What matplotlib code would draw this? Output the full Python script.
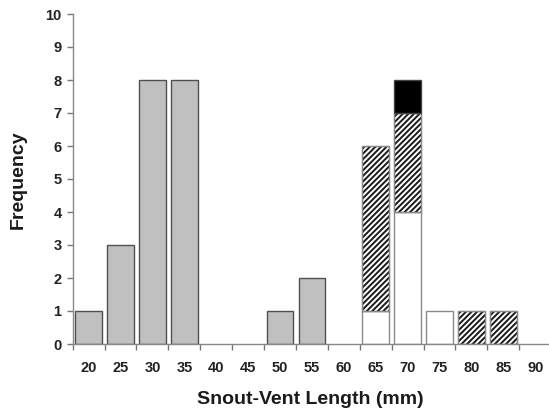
import matplotlib
matplotlib.use("Agg")
import matplotlib.pyplot as plt
import numpy as np

plt.rcParams['font.family'] = ['Liberation Sans', 'DejaVu Sans']
plt.rcParams['hatch.linewidth'] = 1.4

bins = [20, 25, 30, 35, 40, 45, 50, 55, 60, 65, 70, 75, 80, 85, 90]
gray_vals = [1, 3, 8, 8, 0, 0, 1, 2, 0, 0, 0, 0, 0, 0, 0]
white_vals = [0, 0, 0, 0, 0, 0, 0, 0, 0, 1, 4, 1, 0, 0, 0]
hatch_vals = [0, 0, 0, 0, 0, 0, 0, 0, 0, 5, 3, 0, 1, 1, 0]
black_vals = [0, 0, 0, 0, 0, 0, 0, 0, 0, 0, 1, 0, 0, 0, 0]

fig = plt.figure(figsize=(5.49, 4.12), dpi=100)
W, H = 549, 412
ax = fig.add_axes([72.7 / W, 1 - 344 / H, (549 - 72.7) / W, (344 - 14) / H])

x = np.array(bins, dtype=float)
bw = 4.2
g = np.array(gray_vals); w = np.array(white_vals)
h = np.array(hatch_vals); b = np.array(black_vals)

m = g > 0
ax.bar(x[m], g[m], width=bw, color='#c0c0c0', edgecolor='#505050', linewidth=1.0)
m = w > 0
ax.bar(x[m], w[m], width=bw, color='white', edgecolor='#8a8a8a', linewidth=1.0)
m = h > 0
ax.bar(x[m], h[m], width=bw, bottom=w[m], color='white', edgecolor='#1a1a1a',
       hatch='//////', linewidth=0.8)
ax.bar(x[m], h[m], width=bw, bottom=w[m], fill=False, edgecolor='#8a8a8a', linewidth=1.0)
m = b > 0
ax.bar(x[m], b[m], width=bw, bottom=(w + h)[m], color='black', edgecolor='#444444', linewidth=1.0)

ax.set_xlim(17.5, 17.5 + (549 - 72.7) / 31.9 * 5)
ax.set_ylim(0, 10)
ax.set_yticks(range(0, 11))
ax.set_xticks(np.arange(17.5, 90, 5))
ax.set_xticklabels([])
ax.set_xticks(x, minor=True)
ax.set_xticklabels([str(v) for v in bins], minor=True)
ax.tick_params(axis='x', which='minor', length=0, pad=12, labelsize=10.5, colors='#222222')
ax.tick_params(axis='x', which='major', length=4, width=1, color='#777777', direction='out')
ax.tick_params(axis='y', length=4, width=1, color='#777777', labelsize=10.5, labelcolor='#222222', pad=4)
for lab in ax.get_yticklabels():
    lab.set_fontweight('bold')
for lab in ax.get_xticklabels(minor=True):
    lab.set_fontweight('bold')

for s in ['top', 'right']:
    ax.spines[s].set_visible(False)
for s in ['left', 'bottom']:
    ax.spines[s].set_color('#888888')
    ax.spines[s].set_linewidth(1.0)

fig.text(18 / W, 1 - 180 / H, 'Frequency', rotation=90, ha='center', va='center',
         fontsize=14, fontweight='bold', color='#1a1a1a')
fig.text(310 / W, 1 - 399 / H, 'Snout-Vent Length (mm)', ha='center', va='center',
         fontsize=14, fontweight='bold', color='#1a1a1a')

fig.savefig('out.png', dpi=100)
